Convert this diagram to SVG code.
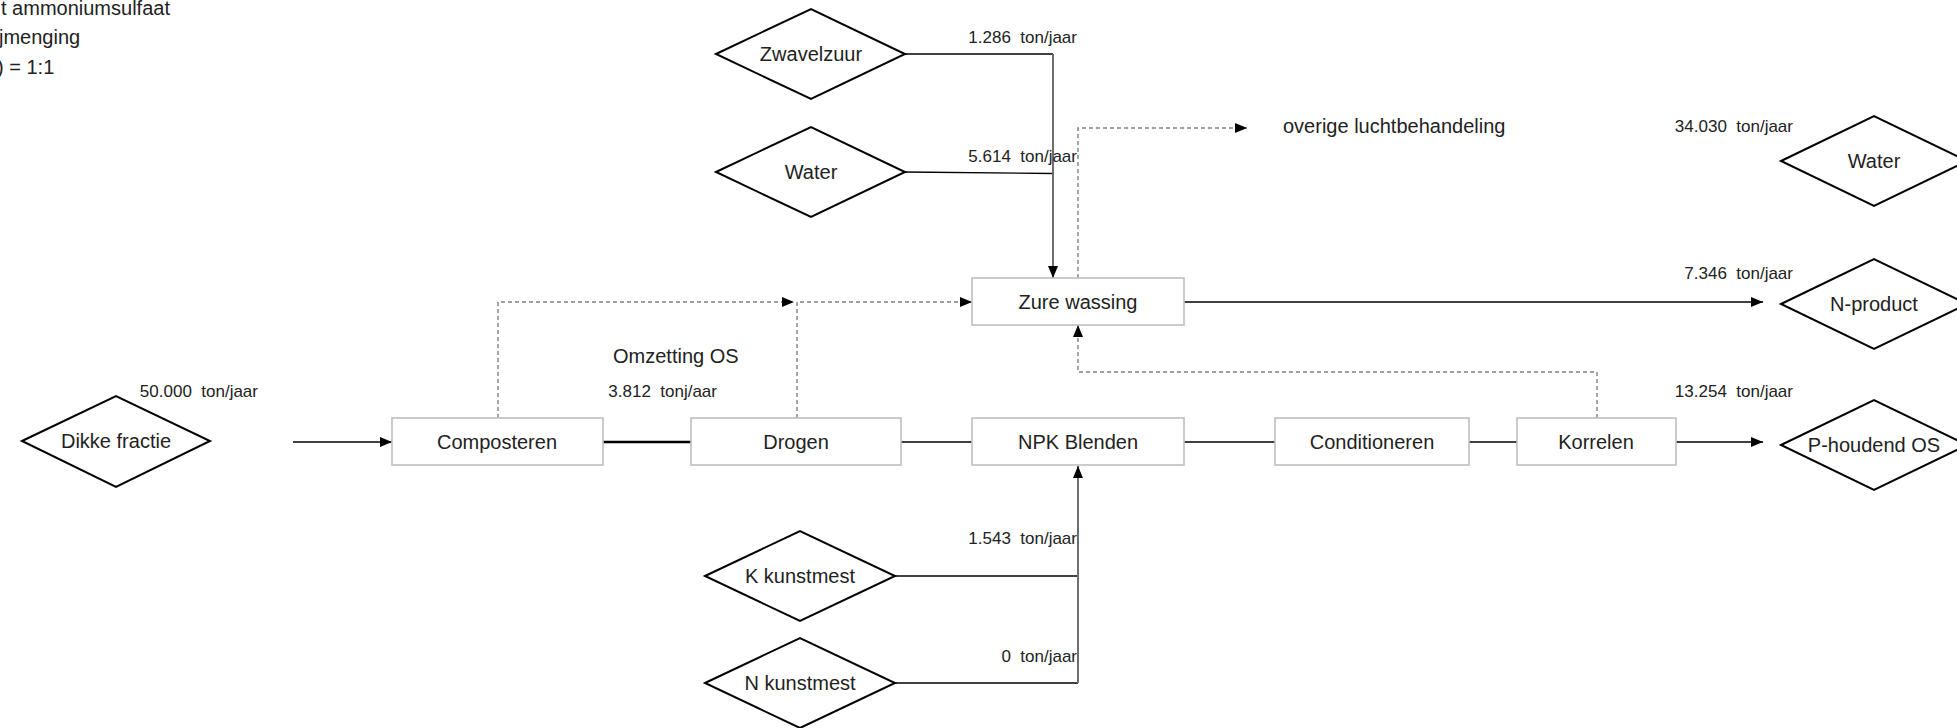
<svg xmlns="http://www.w3.org/2000/svg" width="1957" height="728" viewBox="0 0 1957 728">
  <style>
    .lbl { font-family: "Liberation Sans", Arial, sans-serif; font-size: 20px; fill: #222; }
    .mid { text-anchor: middle; }
    .flow { font-family: "Liberation Sans", Arial, sans-serif; font-size: 17px; fill: #222; text-anchor: end; white-space: pre; }
    .box { fill: #fff; stroke: #bfbfbf; stroke-width: 1.6; }
    .dia { fill: #fff; stroke: #000; stroke-width: 2; stroke-linejoin: miter; }
    .solid { fill: none; stroke: #000; stroke-width: 1.4; }
    .vert { fill: none; stroke: #6e6e6e; stroke-width: 2; }
    .thick { fill: none; stroke: #000; stroke-width: 2.6; }
    .dash { fill: none; stroke: #7f7f7f; stroke-width: 1.4; stroke-dasharray: 4 3; }
  </style>
  <defs>
    <marker id="arrow" viewBox="0 0 12 10" refX="12" refY="5" markerWidth="12" markerHeight="10" markerUnits="userSpaceOnUse" orient="auto">
      <path d="M0,0 L12,5 L0,10 Z" fill="#000"/>
    </marker>
  </defs>

  <rect width="1957" height="728" fill="#fff"/>

  <!-- note text, cut off at the left edge -->
  <g id="note">
    <text class="lbl" x="1" y="15">t ammoniumsulfaat</text>
    <text class="lbl" x="-1" y="44">jmenging</text>
    <text class="lbl" x="-3" y="74">) = 1:1</text>
  </g>

  <!-- connectors -->
  <g id="connectors">
    <!-- Zwavelzuur + Water into Zure wassing -->
    <path class="solid" d="M905 54 H1053"/>
    <path class="solid" d="M905 172 L1053 173.5"/>
    <path class="vert" d="M1053 54 V278" marker-end="url(#arrow)"/>
    <!-- Zure wassing to N-product -->
    <path class="solid" d="M1184 302 H1763" marker-end="url(#arrow)"/>
    <!-- air streams -->
    <path class="dash" d="M498 418 V302 H794" marker-end="url(#arrow)"/>
    <path class="dash" d="M797 418 V302 H972" marker-end="url(#arrow)"/>
    <path class="dash" d="M1078 278 V128 H1247" marker-end="url(#arrow)"/>
    <path class="dash" d="M1597 418 V372 H1078 V325" marker-end="url(#arrow)"/>
    <!-- main process line -->
    <path class="solid" d="M293 442 H392" marker-end="url(#arrow)"/>
    <path class="thick" d="M603 442 H691"/>
    <path class="solid" d="M901 442 H972"/>
    <path class="solid" d="M1184 442 H1275"/>
    <path class="solid" d="M1469 442 H1517"/>
    <path class="solid" d="M1676 442 H1763" marker-end="url(#arrow)"/>
    <!-- fertiliser feeds into NPK Blenden -->
    <path class="solid" d="M895 576 H1078"/>
    <path class="solid" d="M895 683 H1078"/>
    <path class="vert" d="M1078 683 V466" marker-end="url(#arrow)"/>
  </g>

  <!-- flow labels -->
  <g id="flow-labels">
    <text class="flow" x="1077" y="43">1.286  ton/jaar</text>
    <text class="flow" x="1077" y="162">5.614  ton/jaar</text>
    <text class="flow" x="1077" y="544">1.543  ton/jaar</text>
    <text class="flow" x="1077" y="662">0  ton/jaar</text>
    <text class="flow" x="1793" y="132">34.030  ton/jaar</text>
    <text class="flow" x="1793" y="279">7.346  ton/jaar</text>
    <text class="flow" x="1793" y="397">13.254  ton/jaar</text>
    <text class="flow" x="258" y="397">50.000  ton/jaar</text>
    <text class="flow" x="717" y="397">3.812  tonj/aar</text>
    <text class="lbl" x="613" y="363">Omzetting OS</text>
    <text class="lbl" x="1283" y="133">overige luchtbehandeling</text>
  </g>

  <!-- input / output streams -->
  <g id="zwavelzuur">
    <polygon class="dia" points="716,54 811,9 905,54 811,99"/>
    <text class="lbl mid" x="811" y="61">Zwavelzuur</text>
  </g>
  <g id="water-in">
    <polygon class="dia" points="716,172 811,127 905,172 811,217"/>
    <text class="lbl mid" x="811" y="179">Water</text>
  </g>
  <g id="dikke-fractie">
    <polygon class="dia" points="22,441 116,396 210,441 116,487"/>
    <text class="lbl mid" x="116" y="448">Dikke fractie</text>
  </g>
  <g id="k-kunstmest">
    <polygon class="dia" points="705,576 800,531 895,576 800,621"/>
    <text class="lbl mid" x="800" y="583">K kunstmest</text>
  </g>
  <g id="n-kunstmest">
    <polygon class="dia" points="705,683 800,638 895,683 800,728"/>
    <text class="lbl mid" x="800" y="690">N kunstmest</text>
  </g>
  <g id="water-out">
    <polygon class="dia" points="1781,161 1874,116 1967,161 1874,206"/>
    <text class="lbl mid" x="1874" y="168">Water</text>
  </g>
  <g id="n-product">
    <polygon class="dia" points="1781,304 1874,259 1967,304 1874,349"/>
    <text class="lbl mid" x="1874" y="311">N-product</text>
  </g>
  <g id="p-houdend-os">
    <polygon class="dia" points="1781,445 1874,400 1967,445 1874,490"/>
    <text class="lbl mid" x="1874" y="452">P-houdend OS</text>
  </g>

  <!-- process steps -->
  <g id="zure-wassing">
    <rect class="box" x="972" y="278" width="212" height="47"/>
    <text class="lbl mid" x="1078" y="309">Zure wassing</text>
  </g>
  <g id="composteren">
    <rect class="box" x="392" y="418" width="211" height="47"/>
    <text class="lbl mid" x="497" y="449">Composteren</text>
  </g>
  <g id="drogen">
    <rect class="box" x="691" y="418" width="210" height="47"/>
    <text class="lbl mid" x="796" y="449">Drogen</text>
  </g>
  <g id="npk-blenden">
    <rect class="box" x="972" y="418" width="212" height="47"/>
    <text class="lbl mid" x="1078" y="449">NPK Blenden</text>
  </g>
  <g id="conditioneren">
    <rect class="box" x="1275" y="418" width="194" height="47"/>
    <text class="lbl mid" x="1372" y="449">Conditioneren</text>
  </g>
  <g id="korrelen">
    <rect class="box" x="1517" y="418" width="159" height="47"/>
    <text class="lbl mid" x="1596" y="449">Korrelen</text>
  </g>
</svg>
